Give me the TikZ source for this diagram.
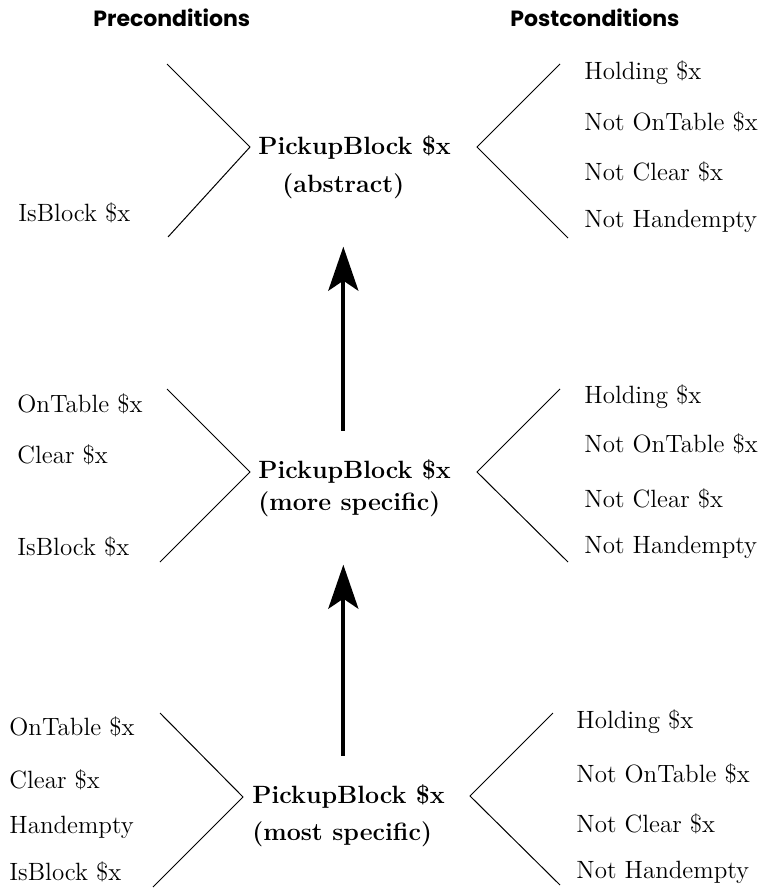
\documentclass[tikz,border=0pt]{standalone}
\usepackage{fontspec}
\newfontfamily\headfont{Poppins}
\usetikzlibrary{arrows.meta}

\begin{document}
\begin{tikzpicture}[x=0.5pt, y=-0.5pt,
        cond/.style={anchor=base west, inner sep=0pt, font=\fontsize{12.5}{14}\selectfont},
        act/.style={cond, font=\fontsize{12.5}{14}\selectfont\bfseries},
        head/.style={anchor=base west, inner sep=0pt, font=\headfont\fontsize{11}{13}\selectfont\bfseries},
        brace/.style={line width=0.5pt},
        refine/.style={line width=2pt, -{Stealth[length=22pt, width=15pt, inset=5pt]}, shorten <=14pt, shorten >=24pt}]
            \useasboundingbox (0,0) rectangle (767,888);
            \node[head](1) at (93, 27) {Preconditions};
            \node[head](2) at (510, 27) {Postconditions};
            % abstract operator
            \node[act](3) at (258, 155) {PickupBlock \$x};
            \node[act](4) at (282, 192) {(abstract)};
            \node[cond](5) at (18, 221) {IsBlock \$x};
            \node[cond](6) at (584, 80) {Holding \$x};
            \node[cond](7) at (584, 131) {Not OnTable \$x};
            \node[cond](8) at (584, 180) {Not Clear \$x};
            \node[cond](9) at (584, 227) {Not Handempty};
            \draw[brace] (167, 64) -- (250, 147) -- (168, 237);
            \draw[brace] (560, 64) -- (477, 147) -- (568, 238);
            % more specific operator
            \node[act](10) at (258, 478) {PickupBlock \$x};
            \node[act](11) at (258, 510) {(more specific)};
            \node[cond](12) at (17, 412) {OnTable \$x};
            \node[cond](13) at (17, 463) {Clear \$x};
            \node[cond](14) at (17, 555) {IsBlock \$x};
            \node[cond](15) at (584, 403) {Holding \$x};
            \node[cond](16) at (584, 452) {Not OnTable \$x};
            \node[cond](17) at (584, 507) {Not Clear \$x};
            \node[cond](18) at (584, 553) {Not Handempty};
            \draw[brace] (167, 389) -- (250, 472) -- (160, 562);
            \draw[brace] (560, 389) -- (477, 472) -- (568, 562);
            % most specific operator
            \node[act](19) at (252, 803) {PickupBlock \$x};
            \node[act](20) at (252, 840) {(most specific)};
            \node[cond](21) at (9, 735) {OnTable \$x};
            \node[cond](22) at (9, 788) {Clear \$x};
            \node[cond](23) at (9, 833) {Handempty};
            \node[cond](24) at (9, 880) {IsBlock \$x};
            \node[cond](25) at (576, 728) {Holding \$x};
            \node[cond](26) at (576, 782) {Not OnTable \$x};
            \node[cond](27) at (576, 832) {Not Clear \$x};
            \node[cond](28) at (576, 878) {Not Handempty};
            \draw[brace] (160, 713) -- (243, 797) -- (153, 887);
            \draw[brace] (553, 713) -- (470, 796) -- (560, 885);
            % refinement arrows
            \draw[refine] (10.north -| 4.south) -- (4.south);
            \draw[refine] (19.north -| 4.south) -- (11.south -| 4.south);
        \end{tikzpicture}
\end{document}
